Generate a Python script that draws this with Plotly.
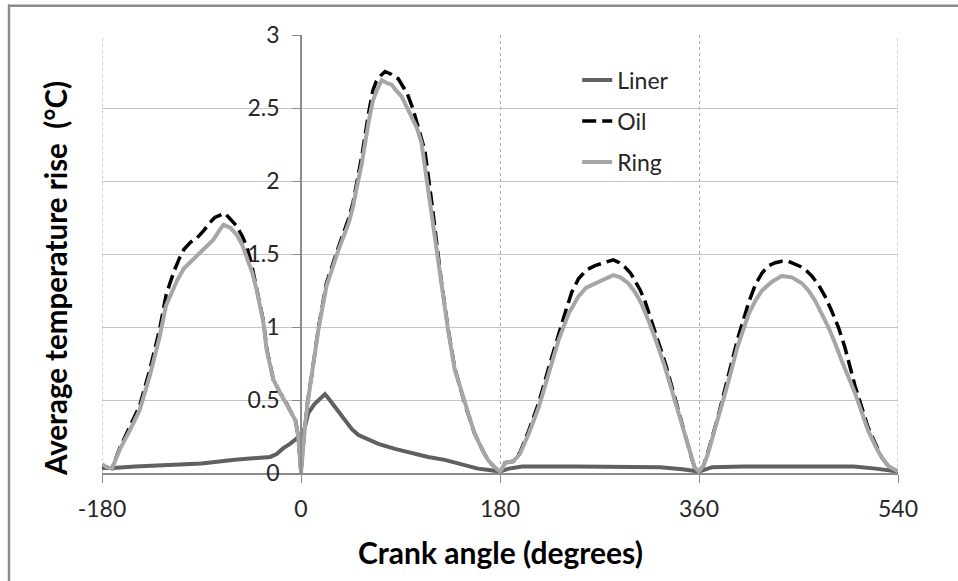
import plotly.graph_objects as go

# ---------------- data ----------------
liner_x = [-180, -170, -150, -120, -90, -60, -40, -28, -22, -16, -10, -4, 0, 3, 6.6, 12, 17, 21.7,
           26, 31, 40, 46, 52, 60, 70, 85, 100, 115, 130, 145, 160, 170, 180, 188, 200, 250,
           300, 325, 345, 360, 372, 400, 450, 500, 520, 540]
liner_y = [0.035, 0.035, 0.045, 0.055, 0.065, 0.09, 0.105, 0.11, 0.13, 0.17, 0.2, 0.24, 0.26, 0.3,
           0.41, 0.47, 0.51, 0.54, 0.5, 0.45, 0.36, 0.30, 0.26, 0.23, 0.20, 0.165, 0.135, 0.11,
           0.09, 0.06, 0.03, 0.02, 0.01, 0.03, 0.045, 0.045, 0.045, 0.04, 0.025, 0.01, 0.04,
           0.045, 0.045, 0.045, 0.03, 0.01]

oil_x = [-180, -176, -171, -164, -155, -146, -137, -128, -122, -115, -110, -106, -100, -94, -88,
         -83, -78, -73, -69, -64, -58, -53, -49, -45, -40, -34, -31, -25, -19, -14, -10, -5, -2.5,
         0, 1.5, 3.6, 6, 9.7, 15.7, 23, 28, 34, 43, 47, 50, 55, 61, 65, 68, 72, 76, 82, 88, 92,
         96, 101, 106, 112, 118, 122, 127, 133, 139, 148, 157, 164, 169, 175, 180, 182, 184.5,
         192, 198, 206, 215, 224, 233, 239, 245, 251, 258, 266, 274, 282.5, 288, 293, 298, 302,
         307, 311, 316, 321, 326, 330, 338, 347, 353, 356, 360, 364, 368, 377, 386, 395, 405,
         411, 417, 423, 429, 435, 441, 447, 453, 458, 462, 468, 474, 480, 486, 492, 501, 513,
         520, 525, 531, 537, 540]
oil_y = [0.05, 0.04, 0.03, 0.17, 0.31, 0.46, 0.70, 0.98, 1.22, 1.38, 1.47, 1.53, 1.58, 1.61, 1.66,
         1.71, 1.75, 1.77, 1.78, 1.74, 1.69, 1.62, 1.55, 1.44, 1.27, 1.04, 0.85, 0.64, 0.55, 0.49,
         0.43, 0.36, 0.25, 0.0, 0.15, 0.32, 0.49, 0.67, 0.99, 1.30, 1.42, 1.55, 1.74, 1.85, 1.97,
         2.17, 2.46, 2.62, 2.68, 2.72, 2.75, 2.73, 2.70, 2.65, 2.60, 2.50, 2.37, 2.21, 1.87, 1.60,
         1.31, 0.99, 0.72, 0.48, 0.27, 0.16, 0.09, 0.04, 0.01, 0.03, 0.07, 0.08, 0.14, 0.29, 0.48,
         0.72, 0.96, 1.10, 1.24, 1.33, 1.39, 1.42, 1.44, 1.46, 1.44, 1.41, 1.37, 1.32, 1.25, 1.18,
         1.06, 0.95, 0.84, 0.74, 0.52, 0.26, 0.11, 0.04, 0.01, 0.05, 0.14, 0.38, 0.64, 0.92, 1.17,
         1.29, 1.37, 1.42, 1.44, 1.45, 1.45, 1.43, 1.41, 1.38, 1.35, 1.29, 1.21, 1.11, 1.00, 0.86,
         0.60, 0.31, 0.19, 0.11, 0.05, 0.02, 0.01]

ring_x = [-180, -176, -171, -164, -155, -146, -137, -128, -122, -112, -106, -98, -91, -85, -79,
          -74, -70, -64, -58, -53, -49, -44, -40, -34, -31, -25, -19, -14, -10, -5, -2.5, 0, 1.5,
          3.6, 6, 9.7, 15.7, 23, 28, 34, 43, 47, 50, 55, 61, 65, 68.5, 73, 78, 82, 86, 91, 100,
          105, 109, 115, 121, 127, 133, 139, 148, 157, 164, 169, 175, 180, 182, 184.5, 192, 198,
          206, 215, 224, 233, 242, 251, 258, 266, 274, 282.5, 289, 296, 302, 308, 314, 320, 329,
          338, 347, 353, 356, 360, 364, 368, 377, 386, 395, 405, 411, 417, 426, 435, 444, 453,
          459, 465, 471, 477, 483, 489, 501, 513, 520, 525, 531, 537, 540]
ring_y = [0.06, 0.04, 0.03, 0.16, 0.29, 0.43, 0.66, 0.93, 1.15, 1.32, 1.40, 1.46, 1.51, 1.55, 1.60,
          1.66, 1.70, 1.68, 1.63, 1.56, 1.48, 1.37, 1.25, 1.03, 0.84, 0.64, 0.55, 0.49, 0.43, 0.36,
          0.25, 0.0, 0.15, 0.32, 0.48, 0.66, 0.98, 1.28, 1.40, 1.53, 1.71, 1.82, 1.94, 2.12, 2.40,
          2.55, 2.62, 2.69, 2.67, 2.66, 2.62, 2.58, 2.44, 2.36, 2.26, 1.94, 1.62, 1.30, 0.98, 0.71,
          0.48, 0.27, 0.16, 0.09, 0.04, 0.01, 0.03, 0.07, 0.08, 0.13, 0.27, 0.45, 0.68, 0.91, 1.09,
          1.21, 1.27, 1.30, 1.33, 1.355, 1.34, 1.30, 1.24, 1.16, 1.05, 0.93, 0.73, 0.50, 0.25, 0.11,
          0.04, 0.01, 0.05, 0.13, 0.36, 0.61, 0.87, 1.09, 1.18, 1.25, 1.31, 1.35, 1.34, 1.30, 1.25,
          1.18, 1.09, 1.00, 0.89, 0.77, 0.55, 0.29, 0.18, 0.11, 0.05, 0.02, 0.01]

x_ticks = [-180, 0, 180, 360, 540]
y_ticks = [0, 0.5, 1, 1.5, 2, 2.5, 3]
y_ticktext = ["0", "0.5", "1", "1.5", "2", "2.5", "3"]
x_range = [-180, 540]
y_range = [0, 3]

FONT = "Lato"
W, H = 958, 581
ML, MR, MT, MB = 102, 60, 35, 108
plot_w = W - ML - MR
plot_h = H - MT - MB

def px_to_paper_x(px):
    return (px - ML) / plot_w

def px_to_paper_y(py):
    return (H - MB - py) / plot_h

fig = go.Figure()
fig.add_trace(go.Scatter(x=liner_x, y=liner_y, mode="lines", name="Liner", legendgroup="a",
                         line=dict(color="#606060", width=4)))
fig.add_trace(go.Scatter(x=oil_x, y=oil_y, mode="lines", name="Oil", legendgroup="b",
                         line=dict(color="#000000", width=3.5, dash="14px,6px")))
fig.add_trace(go.Scatter(x=ring_x, y=ring_y, mode="lines", name="Ring", legendgroup="c",
                         line=dict(color="#a6a6a6", width=4)))

# position of y-axis at x = 0 (fraction of x range)
y_axis_pos = (0 - x_range[0]) / (x_range[1] - x_range[0])

fig.update_layout(
    width=W, height=H,
    margin=dict(l=ML, r=MR, t=MT, b=MB),
    paper_bgcolor="white", plot_bgcolor="white",
    font=dict(family=FONT, size=23, color="#262626"),
    showlegend=True,
    legend=dict(x=0.597, y=0.946, xanchor="left", yanchor="top",
                bgcolor="rgba(0,0,0,0)", traceorder="grouped", tracegroupgap=8,
                font=dict(family=FONT, size=23, color="#262626")),
    xaxis=dict(range=x_range, tickvals=x_ticks, ticktext=[str(v) for v in x_ticks],
               showgrid=True, gridcolor="#a6a6a6", griddash="dot", gridwidth=1,
               zeroline=False, showline=True, linecolor="#8c8c8c", linewidth=1.5,
               ticks="outside", ticklen=8, tickcolor="#8c8c8c", ticklabelstandoff=7,
               tickfont=dict(size=23), fixedrange=True),
    yaxis=dict(range=y_range, tickvals=y_ticks, ticktext=y_ticktext,
               anchor="free", position=y_axis_pos,
               showgrid=True, gridcolor="#c4c4c4", gridwidth=1,
               zeroline=False, showline=True, linecolor="#8c8c8c", linewidth=1.5,
               ticks="outside", ticklen=8, tickcolor="#8c8c8c", ticklabelstandoff=8,
               tickfont=dict(size=23), fixedrange=True),
)

# dotted vertical gridlines at the plot edges (plotly skips them there)
for xv in (x_range[0], x_range[1]):
    fig.add_shape(type="line", xref="x", yref="paper", x0=xv, x1=xv, y0=0, y1=1,
                  line=dict(color="#a6a6a6", width=1, dash="dot"), layer="below")

# outer chart border: top and left edges (right/bottom lie outside the picture)
fig.add_shape(type="rect", xref="paper", yref="paper",
              x0=px_to_paper_x(8), x1=px_to_paper_x(W + 5),
              y0=px_to_paper_y(7), y1=px_to_paper_y(4.5),
              line=dict(width=0), fillcolor="#8c8c8c", layer="above")
fig.add_shape(type="rect", xref="paper", yref="paper",
              x0=px_to_paper_x(7.8), x1=px_to_paper_x(10.2),
              y0=px_to_paper_y(H + 5), y1=px_to_paper_y(4.5),
              line=dict(width=0), fillcolor="#8c8c8c", layer="above")

# axis titles
fig.add_annotation(text="<b>Crank angle (degrees)</b>", xref="paper", yref="paper",
                   x=px_to_paper_x(500), y=px_to_paper_y(552), xanchor="center", yanchor="middle",
                   showarrow=False, font=dict(family=FONT, size=30, color="#000000"))
fig.add_annotation(text="<b>Average temperature rise\u00a0 (°C)</b>", xref="paper", yref="paper",
                   x=px_to_paper_x(55), y=px_to_paper_y(279), xanchor="center", yanchor="middle",
                   textangle=-90, showarrow=False, font=dict(family=FONT, size=29.5, color="#000000"))

fig.write_html("out.html", config={"displayModeBar": False},
               post_script="document.body.style.margin='0px';")
